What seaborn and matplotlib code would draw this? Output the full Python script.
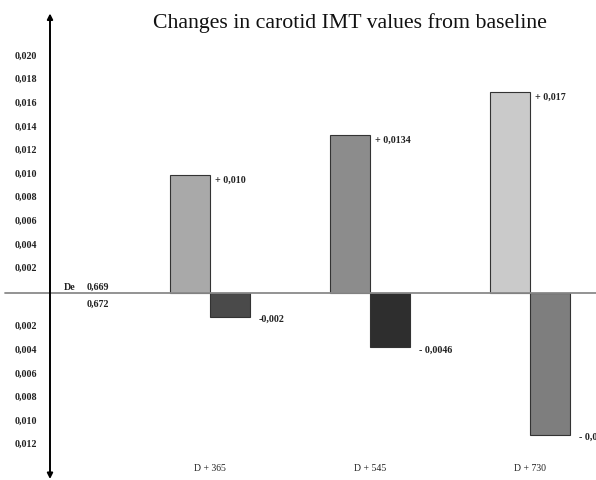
# Changes in carotid IMT values from baseline — bar chart recreation

import matplotlib
matplotlib.use("Agg")
import matplotlib.pyplot as plt
import matplotlib.transforms as mtransforms
import seaborn as sns
import pandas as pd

# ── data ─────────────────────────────────────────────────────────────────────
visits = ["D + 365", "D + 545", "D + 730"]
increase = [0.010, 0.0134, 0.017]
decrease = [-0.002, -0.0046, -0.012]
increase_labels = ["+ 0,010", "+ 0,0134", "+ 0,017"]
decrease_labels = ["-0,002", "- 0,0046", "- 0,012"]
increase_colors = ["#a9a9a9", "#8c8c8c", "#cacaca"]
decrease_colors = ["#4a4a4a", "#2e2e2e", "#7e7e7e"]
baseline_name = "De"
baseline_before = "0,669"
baseline_after = "0,672"
pos_ticks = [0.002, 0.004, 0.006, 0.008, 0.010, 0.012, 0.014, 0.016, 0.018, 0.020]
neg_ticks = [-0.002, -0.004, -0.006, -0.008, -0.010, -0.012]

df = pd.DataFrame({
    "visit": visits * 2,
    "change": increase + decrease,
    "kind": ["up"] * 3 + ["down"] * 3,
})
order = [baseline_name] + visits

# ── plot ─────────────────────────────────────────────────────────────────────
sns.set_style("white")
plt.rcParams["font.family"] = ["Liberation Serif", "DejaVu Serif"]
small = 7.2

fig = plt.figure(figsize=(5.96, 4.81), dpi=100)
ax = fig.add_axes([0, 0, 1, 1])

sns.barplot(data=df, x="visit", y="change", hue="kind", order=order,
            hue_order=["up", "down"], width=0.5, dodge=True, legend=False,
            edgecolor="#333333", linewidth=0.8, ax=ax)

# colour each bar on its own
bars = sorted(ax.patches, key=lambda p: p.get_x())
colors = [c for pair in zip(increase_colors, decrease_colors) for c in pair]
for bar, col in zip(bars, colors):
    bar.set_facecolor(col)

ax.set_xlim(-0.3125, 3.4125)
ax.set_ylim(-0.015847, 0.024915)
for s in ax.spines.values():
    s.set_visible(False)
ax.set_xlabel("")
ax.set_ylabel("")
ax.set_xticks([])

# y ticks written left of the arrow axis
ticks = pos_ticks + neg_ticks
ax.set_yticks(ticks)
ax.set_yticklabels([f"{abs(t):.3f}".replace(".", ",") for t in ticks],
                   fontsize=small, fontweight="bold", color="#222222")
ax.tick_params(axis="y", length=0, pad=-26.5)
for t, lab in zip(ticks, ax.get_yticklabels()):
    lab.set_horizontalalignment("right")
    dy = 3 / 100 if t > 0 else -8 / 100
    lab.set_transform(lab.get_transform() +
                      mtransforms.ScaledTranslation(0, dy, fig.dpi_scale_trans))

# zero line and vertical double arrow
ax.axhline(0, xmin=0.008, xmax=1, color="#8a8a8a", lw=1.3, zorder=1)
ax.annotate("", xy=(0, 0.97), xytext=(0, 0.002),
            xycoords=("data", "axes fraction"), textcoords=("data", "axes fraction"),
            arrowprops=dict(arrowstyle="<|-|>", color="black", lw=1.4,
                            mutation_scale=8, shrinkA=0, shrinkB=0))

# value labels
for bar, lab in zip(bars[0::2], increase_labels):
    ax.annotate(lab, xy=(bar.get_x() + bar.get_width(), bar.get_y() + bar.get_height()),
                xytext=(5, -4), textcoords="offset pixels",
                fontsize=small, fontweight="bold", va="center", ha="left", color="#222222")
for bar, lab in zip(bars[1::2], decrease_labels):
    ax.annotate(lab, xy=(bar.get_x() + bar.get_width(), bar.get_y() + bar.get_height()),
                xytext=(9, -2), textcoords="offset pixels",
                fontsize=small, fontweight="bold", va="center", ha="left", color="#222222")

# baseline values
ax.annotate(baseline_name, xy=(0, 0), xytext=(20, 7), textcoords="offset pixels",
            fontsize=small, fontweight="bold", va="center", ha="center", color="#222222")
ax.annotate(baseline_before, xy=(0, 0), xytext=(48, 7), textcoords="offset pixels",
            fontsize=small, fontweight="bold", va="center", ha="center", color="#222222")
ax.annotate(baseline_after, xy=(0, 0), xytext=(48, -10), textcoords="offset pixels",
            fontsize=small, fontweight="bold", va="center", ha="center", color="#222222")

# visit labels near the bottom
for i, v in enumerate(visits, start=1):
    ax.text(i, 0.027, v, transform=ax.get_xaxis_transform(), fontsize=7,
            ha="center", va="center", color="#222222")

fig.text(0.587, 0.952, "Changes in carotid IMT values from baseline",
         fontsize=15.7, ha="center", va="center", color="#111111")

fig.savefig("out.png", dpi=100)
